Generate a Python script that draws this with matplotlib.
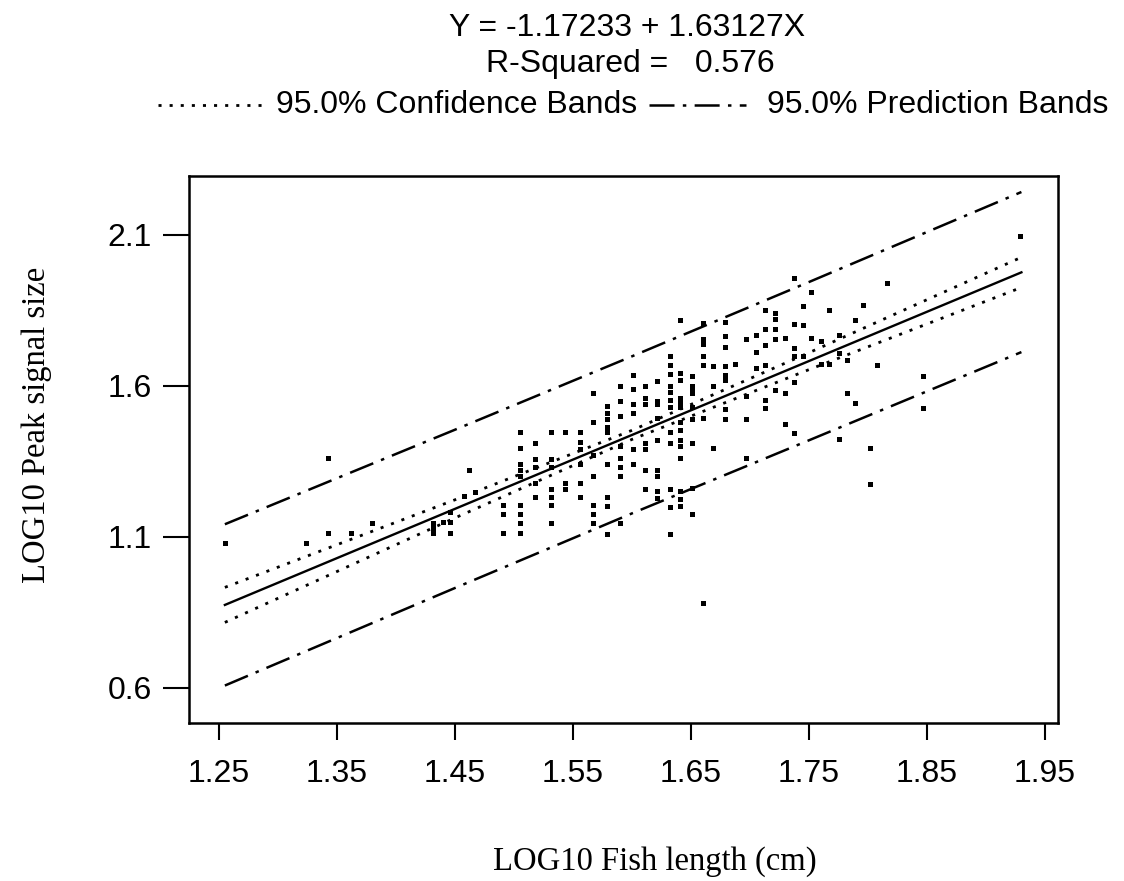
import numpy as np
import matplotlib
matplotlib.use('Agg')
import matplotlib.pyplot as plt
from matplotlib.lines import Line2D

plt.rcParams['lines.scale_dashes'] = False

# regression stated on the chart
intercept = -1.17233
slope = 1.63127
r_squared = 0.576

# LOG10 fish length / LOG10 peak signal size
fish_len = [
    1.255, 1.324, 1.342, 1.342, 1.362, 1.380,
    1.431, 1.431, 1.431, 1.440, 1.446, 1.446, 1.446,
    1.458, 1.462, 1.467, 1.491, 1.491, 1.491,
    1.505, 1.505, 1.505, 1.505, 1.505, 1.505, 1.505, 1.505, 1.505,
    1.518, 1.518, 1.518, 1.518, 1.518,
    1.531, 1.531, 1.531, 1.531, 1.531, 1.531, 1.531,
    1.543, 1.543, 1.543,
    1.556, 1.556, 1.556, 1.556, 1.556, 1.556,
    1.567, 1.567, 1.567, 1.567, 1.567, 1.567, 1.567,
    1.579, 1.579, 1.579, 1.579, 1.579, 1.579, 1.579, 1.579, 1.579,
    1.590, 1.590, 1.590, 1.590, 1.590, 1.590, 1.590, 1.590,
    1.601, 1.601, 1.601, 1.601, 1.601, 1.601,
    1.611, 1.611, 1.611, 1.611, 1.611, 1.611, 1.611,
    1.621, 1.621, 1.621, 1.621, 1.621, 1.621, 1.621, 1.621, 1.621,
    1.632, 1.632, 1.632, 1.632, 1.632, 1.632, 1.632, 1.632, 1.632, 1.632, 1.632, 1.632,
    1.641, 1.641, 1.641, 1.641, 1.641, 1.641, 1.641, 1.641, 1.641, 1.641, 1.641, 1.641, 1.641, 1.641,
    1.651, 1.651, 1.651, 1.651, 1.651, 1.651, 1.651, 1.651, 1.651,
    1.660, 1.660, 1.660, 1.660, 1.660, 1.660, 1.660,
    1.669, 1.669, 1.669,
    1.679, 1.679, 1.679, 1.679, 1.679, 1.679, 1.679, 1.679,
    1.687,
    1.697, 1.697, 1.697, 1.697,
    1.705, 1.705, 1.705,
    1.713, 1.713, 1.713, 1.713, 1.713, 1.713,
    1.721, 1.721, 1.721, 1.721, 1.721,
    1.730, 1.730, 1.730,
    1.737, 1.737, 1.737, 1.737, 1.737, 1.737,
    1.745, 1.745, 1.745,
    1.752, 1.752,
    1.760, 1.760,
    1.767, 1.767,
    1.775, 1.775, 1.775,
    1.782, 1.782,
    1.789, 1.789,
    1.796,
    1.802, 1.802,
    1.808,
    1.816,
    1.847, 1.847,
    1.929,
]
peak_size = [
    1.080, 1.080, 1.360, 1.114, 1.114, 1.146,
    1.146, 1.130, 1.114, 1.148, 1.181, 1.151, 1.113,
    1.237, 1.322, 1.249, 1.206, 1.176, 1.113,
    1.446, 1.396, 1.340, 1.320, 1.301, 1.206, 1.176, 1.146, 1.113,
    1.410, 1.357, 1.330, 1.280, 1.231,
    1.446, 1.357, 1.330, 1.258, 1.231, 1.206, 1.146,
    1.446, 1.280, 1.260,
    1.446, 1.413, 1.390, 1.340, 1.280, 1.231,
    1.578, 1.479, 1.370, 1.301, 1.206, 1.176, 1.146,
    1.533, 1.510, 1.490, 1.465, 1.446, 1.340, 1.231, 1.203, 1.110,
    1.600, 1.550, 1.500, 1.402, 1.360, 1.330, 1.301, 1.146,
    1.635, 1.590, 1.540, 1.510, 1.390, 1.340,
    1.600, 1.560, 1.540, 1.410, 1.390, 1.320, 1.258,
    1.616, 1.550, 1.540, 1.495, 1.420, 1.320, 1.301, 1.253, 1.230,
    1.700, 1.670, 1.640, 1.600, 1.580, 1.555, 1.530, 1.446, 1.410, 1.260, 1.200, 1.110,
    1.817, 1.644, 1.621, 1.560, 1.545, 1.530, 1.480, 1.455, 1.420, 1.400, 1.360, 1.253, 1.225, 1.203,
    1.632, 1.600, 1.590, 1.578, 1.530, 1.490, 1.410, 1.261, 1.176,
    1.808, 1.756, 1.740, 1.700, 1.670, 1.495, 0.880,
    1.665, 1.600, 1.396,
    1.812, 1.765, 1.730, 1.665, 1.635, 1.620, 1.525, 1.490,
    1.671,
    1.755, 1.566, 1.490, 1.360,
    1.767, 1.712, 1.660,
    1.850, 1.789, 1.734, 1.668, 1.554, 1.528,
    1.843, 1.822, 1.789, 1.755, 1.588,
    1.759, 1.578, 1.473,
    1.957, 1.806, 1.726, 1.700, 1.613, 1.443,
    1.866, 1.803, 1.700,
    1.911, 1.759,
    1.748, 1.674,
    1.850, 1.671,
    1.767, 1.709, 1.425,
    1.687, 1.578,
    1.817, 1.542,
    1.867,
    1.393, 1.275,
    1.668,
    1.940,
    1.632, 1.528,
    2.097,
]

# bands read at a few x positions
band_x = [1.255, 1.45, 1.60, 1.75, 1.93]
conf_upper = [0.933, 1.223, 1.453, 1.710, 2.026]
conf_lower = [0.817, 1.163, 1.423, 1.654, 1.926]
pred_upper = [1.142, 1.455, 1.698, 1.944, 2.242]
pred_lower = [0.608, 0.931, 1.178, 1.420, 1.712]

xticks = [1.25, 1.35, 1.45, 1.55, 1.65, 1.75, 1.85, 1.95]
yticks = [0.6, 1.1, 1.6, 2.1]

W, H = 1124, 881
fig = plt.figure(figsize=(W / 100, H / 100), dpi=100)
ax = fig.add_axes([189 / W, 1 - 723 / H, (1058 - 189) / W, (723 - 176) / H])

sans = 'Liberation Sans'
serif = 'Liberation Serif'

dotted = (0, (2.2, 5.8))
dashdot = (0, (18, 6, 2.5, 6))

ax.plot(fish_len, peak_size, 's', ms=3.6, mew=0, color='black')

fit_x = np.array([band_x[0], band_x[-1]])
ax.plot(fit_x, intercept + slope * fit_x, color='black', lw=1.7)
ax.plot(band_x, conf_upper, color='black', lw=2.0, linestyle=dotted)
ax.plot(band_x, conf_lower, color='black', lw=2.0, linestyle=dotted)
ax.plot(band_x, pred_upper, color='black', lw=1.8, linestyle=dashdot)
ax.plot(band_x, pred_lower, color='black', lw=1.8, linestyle=dashdot)

ax.set_xlim(1.2246, 1.961)
ax.set_ylim(0.484, 2.295)
ax.set_xticks(xticks)
ax.set_xticklabels(['%.2f' % t for t in xticks], fontsize=23, family=sans)
ax.set_yticks(yticks)
ax.set_yticklabels(['%.1f' % t for t in yticks], fontsize=23, family=sans)
ax.tick_params(axis='x', length=12, width=1.5, pad=14)
ax.tick_params(axis='y', length=19, width=1.5, pad=8)
for s in ax.spines.values():
    s.set_linewidth(1.8)

fig.text(655 / W, 1 - 862 / H, 'LOG10 Fish length (cm)', family=serif,
         fontsize=23.5, ha='center', va='center')
fig.text(37 / W, 1 - 425 / H, 'LOG10 Peak signal size', family=serif,
         fontsize=23.5, ha='center', va='center', rotation=90)

# header
fig.text(627 / W, 1 - 28 / H, 'Y = %.5f + %.5fX' % (intercept, slope),
         family=sans, fontsize=23, ha='center', va='center')
fig.text(630 / W, 1 - 64 / H, 'R-Squared =   %.3f' % r_squared,
         family=sans, fontsize=23, ha='center', va='center')
ly = 1 - 105 / H
fig.add_artist(Line2D([158 / W, 265 / W], [ly, ly], transform=fig.transFigure,
                      color='black', lw=2.0, linestyle=dotted))
fig.text(276 / W, ly, '95.0% Confidence Bands', family=sans, fontsize=23,
         ha='left', va='center')
fig.add_artist(Line2D([649 / W, 746 / W], [ly, ly], transform=fig.transFigure,
                      color='black', lw=1.8, linestyle=dashdot))
fig.text(767 / W, ly, '95.0% Prediction Bands', family=sans, fontsize=23,
         ha='left', va='center')

fig.savefig('out.png', dpi=100)
